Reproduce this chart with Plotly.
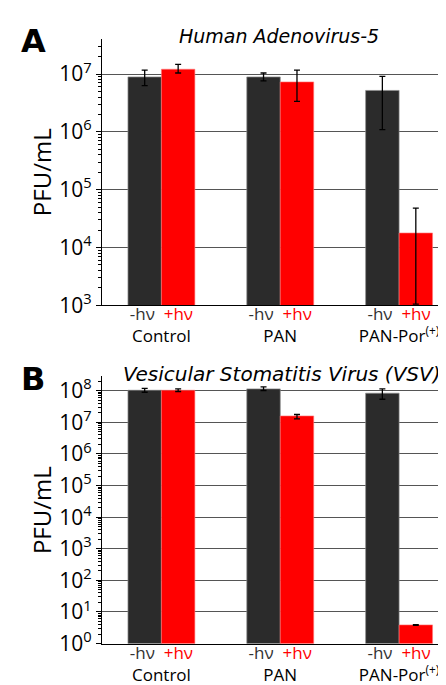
import plotly.graph_objects as go

categories = ["Control", "PAN", "PAN-Por"]
tick_labels = ["Control", "PAN", "PAN-Por<sup>(+)</sup>"]

# Panel A: Human Adenovirus-5 (PFU/mL)
a_dark = [8.9e6, 8.9e6, 5.2e6]
a_dark_hi = [1.17e7, 1.04e7, 9.1e6]
a_dark_lo = [6.3e6, 7.6e6, 1.09e6]
a_red = [1.21e7, 7.3e6, 1.78e4]
a_red_hi = [1.47e7, 1.17e7, 4.77e4]
a_red_lo = [1.04e7, 3.37e6, 1.05e3]

# Panel B: VSV (PFU/mL)
b_dark = [1.04e8, 1.15e8, 8.4e7]
b_dark_hi = [1.2e8, 1.33e8, 1.15e8]
b_dark_lo = [0.9e8, 1.02e8, 5.4e7]
b_red = [1.04e8, 1.6e7, 3.9]
b_red_hi = [1.15e8, 1.78e7, 4.0]
b_red_lo = [0.95e8, 1.3e7, 3.8]

W, H = 446, 685
DARK = "#2b2b2b"
RED = "#ff0000"

def err(v, hi, lo):
    return dict(type="data", symmetric=False,
                array=[h - x for h, x in zip(hi, v)],
                arrayminus=[x - l for l, x in zip(lo, v)],
                color="black", thickness=1.3, width=3)

fig = go.Figure()
for (vals, hi, lo, col, xa, ya, name) in [
    (a_dark, a_dark_hi, a_dark_lo, DARK, "x", "y", "-hν"),
    (a_red, a_red_hi, a_red_lo, RED, "x", "y", "+hν"),
    (b_dark, b_dark_hi, b_dark_lo, DARK, "x2", "y2", "-hν"),
    (b_red, b_red_hi, b_red_lo, RED, "x2", "y2", "+hν"),
]:
    fig.add_trace(go.Bar(
        x=categories, y=vals, name=name, xaxis=xa, yaxis=ya,
        marker=dict(color=col, line=dict(color="rgba(140,140,140,0.7)" if col == DARK else "rgba(255,120,120,0.6)", width=1)),
        error_y=err(vals, hi, lo), showlegend=False,
    ))

# empty traces so the label-only overlay axes get drawn
fig.add_trace(go.Scatter(x=[], y=[], xaxis="x3", yaxis="y", showlegend=False, hoverinfo="skip"))
fig.add_trace(go.Scatter(x=[], y=[], xaxis="x4", yaxis="y2", showlegend=False, hoverinfo="skip"))

ticktext = ['<span style="color:#333333">-hν</span>\u00a0 <span style="color:#ff0000">+hν</span><br>' + t
            for t in tick_labels]

def minor_vals(lo, hi):
    out = []
    for k in range(lo, hi + 1):
        for m in range(2, 10):
            out.append(m * 10 ** k)
    return out

def ticks_text(lo, hi):
    return [10 ** k for k in range(lo, hi + 1)], ["10<sup>%d</sup>" % k for k in range(lo, hi + 1)]

xdom = [94 / W, 1.0]
ya_dom = [1 - 301.3 / H, 1 - 29 / H]
yb_dom = [1 - 647.7 / H, 1 - 374 / H]
XR = [-0.5, 2.462]

tvA, ttA = ticks_text(3, 7)
tvB, ttB = ticks_text(0, 8)

xline = dict(type="category", range=XR, showline=True, linecolor="black",
             linewidth=1.3, ticks="", showticklabels=False, showgrid=False, fixedrange=True)
xlabels = dict(type="linear", range=XR, showline=False, ticks="", showgrid=False, zeroline=False,
               tickmode="array", tickvals=list(range(len(categories))), ticktext=ticktext,
               tickfont=dict(family="Open Sans", size=17, color="black"), fixedrange=True,
               anchor="free", side="bottom")
ycommon = dict(type="log", showline=True, linecolor="black", linewidth=1.3,
               ticks="outside", ticklen=5, tickcolor="black", tickwidth=1.2,
               showgrid=True, gridcolor="#555555", gridwidth=1.2,
               tickfont=dict(family="Open Sans", size=21, color="black"),
               zeroline=False)

fig.update_layout(
    width=W, height=H, margin=dict(l=0, r=0, t=0, b=0),
    paper_bgcolor="white", plot_bgcolor="white",
    barmode="group", bargap=0.437, bargroupgap=0,
    xaxis=dict(domain=xdom, anchor="y", **xline),
    xaxis2=dict(domain=xdom, anchor="y2", **xline),
    xaxis3=dict(overlaying="x", position=ya_dom[0] + 3 / H, **xlabels),
    xaxis4=dict(overlaying="x2", position=yb_dom[0] + 3 / H, **xlabels),
    yaxis=dict(domain=ya_dom, anchor="x", range=[3, 7.6], tickvals=tvA, ticktext=ttA,
               minor=dict(ticks="outside", ticklen=3, tickcolor="black", tickvals=minor_vals(3, 7), showgrid=False),
               **ycommon),
    yaxis2=dict(domain=yb_dom, anchor="x2", range=[0, 8.46], tickvals=tvB, ticktext=ttB,
                minor=dict(ticks="outside", ticklen=3, tickcolor="black", tickvals=minor_vals(0, 8), showgrid=False),
                **ycommon),
)

ann = [
    dict(text="<b>A</b>", x=25 / W, y=1 - 31 / H, font=dict(family="DejaVu Sans", size=32, color="black")),
    dict(text="<b>B</b>", x=25 / W, y=1 - 377 / H, font=dict(family="DejaVu Sans", size=32, color="black")),
    dict(text="<i>Human Adenovirus-5</i>", x=271 / W, y=1 - 26 / H, font=dict(family="DejaVu Sans", size=19, color="black")),
    dict(text="<i>Vesicular Stomatitis Virus (VSV)</i>", x=274 / W, y=1 - 372 / H, font=dict(family="DejaVu Sans", size=20, color="black")),
    dict(text="PFU/mL", textangle=-90, x=33 / W, y=1 - 165 / H, font=dict(family="Open Sans", size=24, color="black")),
    dict(text="PFU/mL", textangle=-90, x=33 / W, y=1 - 511 / H, font=dict(family="Open Sans", size=24, color="black")),
]
for a in ann:
    fig.add_annotation(xref="paper", yref="paper", showarrow=False, xanchor="center", yanchor="middle", **a)

fig.write_html("out.html")
